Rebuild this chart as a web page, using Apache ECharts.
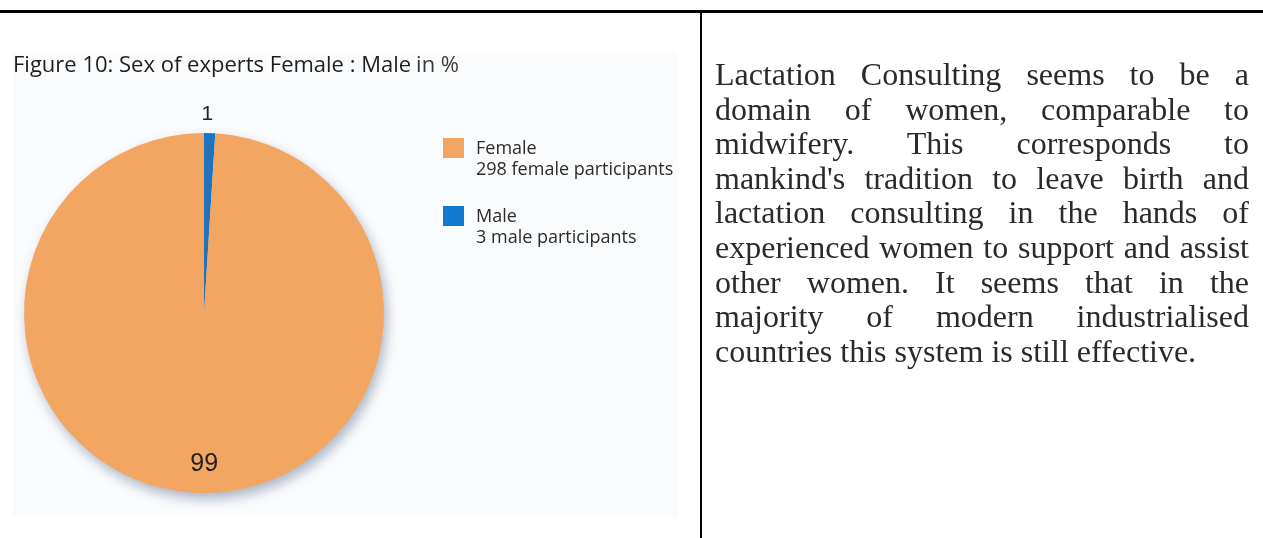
<!DOCTYPE html>
<html>
<head>
<meta charset="utf-8">
<script src="https://cdn.jsdelivr.net/npm/echarts@6/dist/echarts.min.js"></script>
<style>
html, body { margin: 0; padding: 0; background: #ffffff; }
#chart { position: absolute; left: 0; top: 0; width: 1263px; height: 538px; }
#para { position: absolute; left: 715px; top: 57px; width: 534px;
  font-family: 'Liberation Serif', 'Times New Roman', serif; font-size: 32px;
  line-height: 34.6px; color: #2a2a2a; z-index: 2; }
#para div { text-align: justify; text-align-last: justify; }
#para div.last { text-align: left; text-align-last: left; }
</style>
</head>
<body>
<div id="chart"></div>
<div id="para"></div>
<script>
// ---- data ----
const titleText = 'Figure 10: Sex of experts Female : Male';
const titleUnit = 'in %';
const categories = ['Female', 'Male'];
const percentValues = [99, 1];
const participantNotes = ['298 female participants', '3 male participants'];
const sliceColors = ['#F2A662', '#1478CC'];
const paragraphLines = [
  'Lactation Consulting seems to be a',
  'domain of women, comparable to',
  'midwifery. This corresponds to',
  "mankind's tradition to leave birth and",
  'lactation consulting in the hands of',
  'experienced women to support and assist',
  'other women. It seems that in the',
  'majority of modern industrialised',
  'countries this system is still effective.'
];

// paragraph (real text)
const para = document.getElementById('para');
paragraphLines.forEach((t, i) => {
  const d = document.createElement('div');
  d.textContent = t;
  if (i === paragraphLines.length - 1) d.className = 'last';
  para.appendChild(d);
});

// pie order: Male first so its sliver sits just right of 12 o'clock
const order = [1, 0];
const pieData = order.map(i => ({
  name: categories[i],
  value: percentValues[i],
  itemStyle: i === 0 ? {
    color: sliceColors[i],
    shadowBlur: 12, shadowOffsetX: 3, shadowOffsetY: 6,
    shadowColor: 'rgba(80,100,135,0.45)'
  } : { color: sliceColors[i] }
}));

function labelData(showIdx) {
  return order.map(i => ({
    name: categories[i],
    value: percentValues[i],
    label: { show: i === showIdx }
  }));
}

const center = [204, 313];
const labelFont = "'Liberation Sans Narrow', 'Arial Narrow', 'Liberation Sans', sans-serif";
const legendFont = "'Open Sans', sans-serif";

function legendFor(idx, top) {
  return {
    data: [categories[idx]],
    left: 443, top: top, orient: 'vertical', padding: 0,
    icon: 'rect', itemWidth: 21, itemHeight: 20,
    selectedMode: false,
    formatter: name => '{t|' + name + '}\n{s|' + participantNotes[categories.indexOf(name)] + '}',
    textStyle: {
      padding: [22, 0, 0, 7],
      rich: {
        t: { fontFamily: legendFont, fontSize: 18, lineHeight: 21, color: '#2b2b2b' },
        s: { fontFamily: legendFont, fontSize: 18, lineHeight: 21, color: '#2b2b2b' }
      }
    }
  };
}

const chart = echarts.init(document.getElementById('chart'), null, { renderer: 'canvas' });
chart.setOption({
  backgroundColor: '#ffffff',
  animation: false,
  title: {
    text: '{m|' + titleText + '} {u|' + titleUnit + '}',
    left: 13, top: 53, padding: 0,
    textStyle: {
      rich: {
        m: { fontFamily: legendFont, fontSize: 22, fontWeight: 500, color: '#1e1e1e', lineHeight: 26 },
        u: { fontFamily: legendFont, fontSize: 22, fontWeight: 400, color: '#3a3a3a', lineHeight: 26 }
      }
    }
  },
  legend: [legendFor(0, 138), legendFor(1, 206)],
  graphic: [
    { type: 'rect', z: -10, shape: { x: 13, y: 52, width: 665, height: 465 }, style: { fill: '#fafbfc' } },
    { type: 'rect', z: 10, shape: { x: 0, y: 10, width: 1263, height: 3 }, style: { fill: '#000' } },
    { type: 'rect', z: 10, shape: { x: 700, y: 10, width: 2, height: 528 }, style: { fill: '#000' } }
  ],
  series: [
    {
      type: 'pie', name: 'share',
      center: center, radius: [0, 180],
      startAngle: 90, clockwise: true,
      label: { show: false }, labelLine: { show: false },
      emphasis: { disabled: true },
      data: pieData
    },
    {
      type: 'pie', name: 'femaleLabel', silent: true,
      center: center, radius: [140, 156],
      startAngle: 90, clockwise: true,
      itemStyle: { color: 'rgba(0,0,0,0)' },
      label: { position: 'inside', fontFamily: labelFont, fontSize: 25, color: '#222', formatter: '{c}', offset: [5, 0] },
      labelLine: { show: false },
      emphasis: { disabled: true },
      data: labelData(0)
    },
    {
      type: 'pie', name: 'maleLabel', silent: true,
      center: center, radius: [188, 204],
      startAngle: 90, clockwise: true,
      itemStyle: { color: 'rgba(0,0,0,0)' },
      label: { position: 'inside', fontFamily: labelFont, fontSize: 21, color: '#222', formatter: '{c}', offset: [-3, 0] },
      labelLine: { show: false },
      emphasis: { disabled: true },
      data: labelData(1)
    }
  ]
});
</script>
</body>
</html>
